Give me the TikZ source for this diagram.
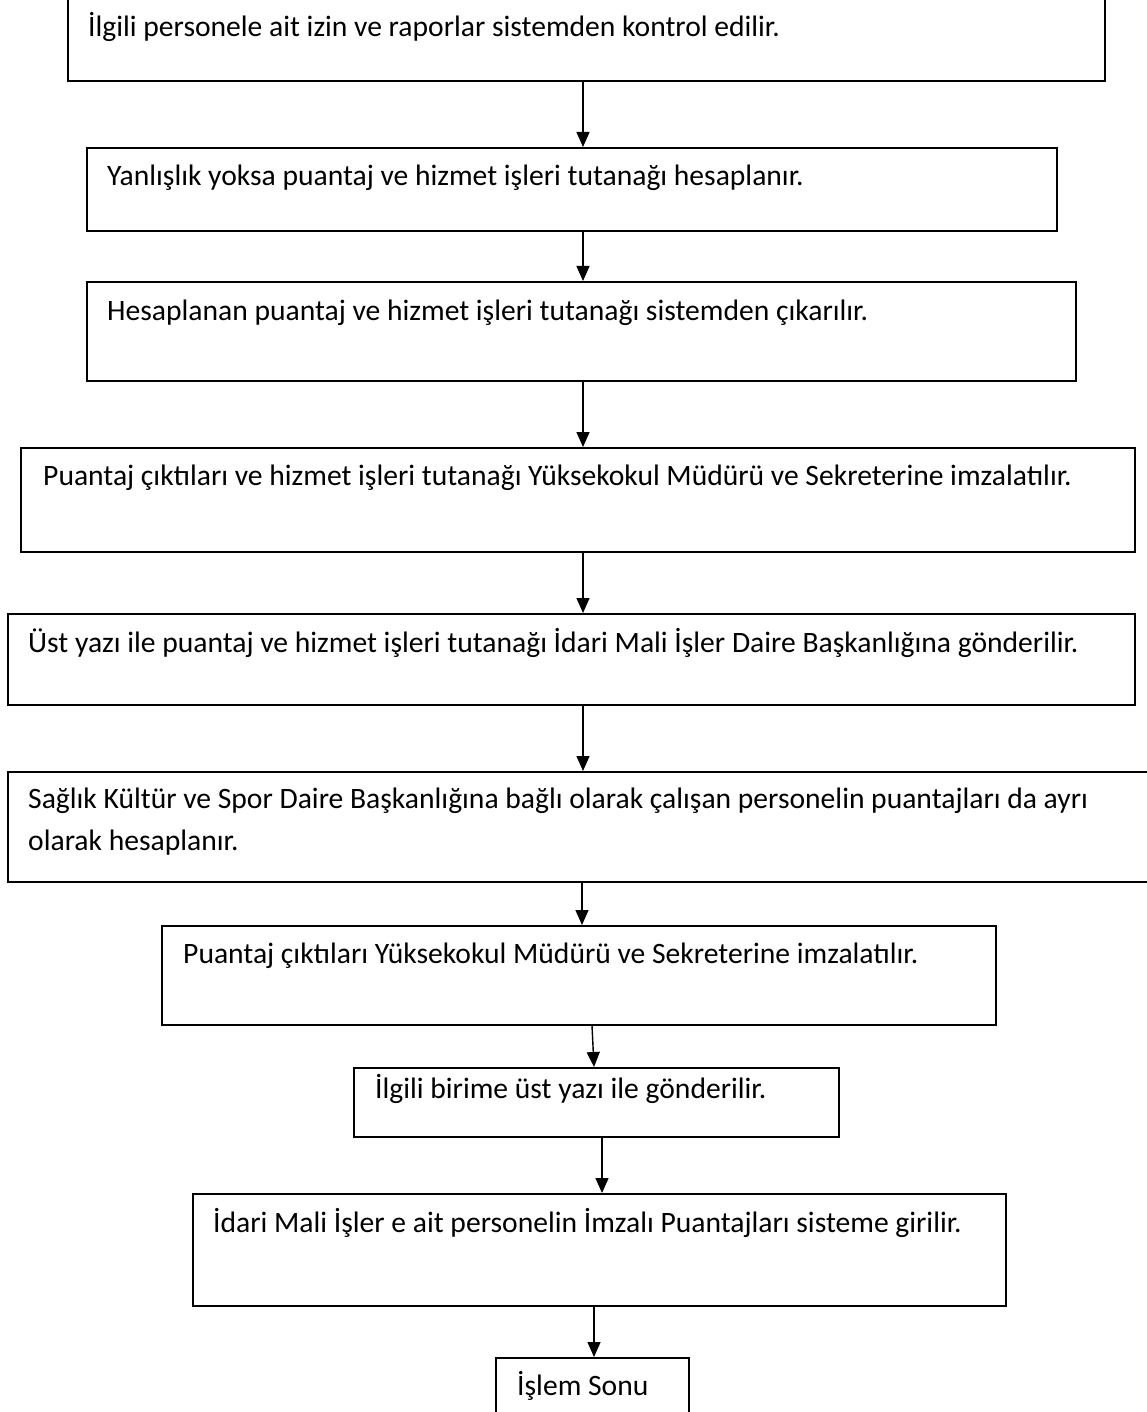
\documentclass[tikz,border=0pt]{standalone}
\usepackage{fontspec}
\setmainfont{Carlito}
\usetikzlibrary{arrows.meta}
\begin{document}
\begin{tikzpicture}[x=1pt,y=-1pt,
  boxst/.style={draw=black, line width=1.6pt, inner sep=0pt, anchor=north west},
  txt/.style={anchor=base west, inner sep=0pt, font=\fontsize{29.6}{41}\selectfont},
  arr/.style={line width=1.4pt, -{Triangle[length=15pt,width=13pt]}}]
\useasboundingbox (0,0) rectangle (1147,1412);
\clip (0,0) rectangle (1147,1412);
% boxes
\node[boxst, minimum width=1037pt, minimum height=100pt] (b1) at (67,-20) {};
\node[boxst, minimum width=970pt, minimum height=83pt] (b2) at (86,147) {};
\node[boxst, minimum width=989pt, minimum height=99pt] (b3) at (86,281) {};
\node[boxst, minimum width=1114pt, minimum height=104pt] (b4) at (20,447) {};
\node[boxst, minimum width=1127pt, minimum height=91pt] (b5) at (7,613) {};
\node[boxst, minimum width=1160pt, minimum height=110pt] (b6) at (7,771) {};
\node[boxst, minimum width=834pt, minimum height=99pt] (b7) at (161,925) {};
\node[boxst, minimum width=485pt, minimum height=69pt] (b8) at (353,1067) {};
\node[boxst, minimum width=813pt, minimum height=112pt] (b9) at (192,1193) {};
\node[boxst, minimum width=193pt, minimum height=100pt] (b10) at (495,1357) {};
% texts
\node[txt] (t1) at (88,37) {İlgili personele ait izin ve raporlar sistemden kontrol edilir.};
\node[txt] (t2) at (107,186) {Yanlışlık yoksa puantaj ve hizmet işleri tutanağı hesaplanır.};
\node[txt] (t3) at (107,320) {Hesaplanan puantaj ve hizmet işleri tutanağı sistemden çıkarılır.};
\node[txt] (t4) at (43,485) {Puantaj çıktıları ve hizmet işleri tutanağı Yüksekokul Müdürü ve Sekreterine imzalatılır.};
\node[txt] (t5) at (28,652) {Üst yazı ile puantaj ve hizmet işleri tutanağı İdari Mali İşler Daire Başkanlığına gönderilir.};
\node[txt] (t6a) at (28,808) {Sağlık Kültür ve Spor Daire Başkanlığına bağlı olarak çalışan personelin puantajları da ayrı};
\node[txt] (t6b) at (28,850) {olarak hesaplanır.};
\node[txt] (t7) at (183,963) {Puantaj çıktıları Yüksekokul Müdürü ve Sekreterine imzalatılır.};
\node[txt] (t8) at (375,1098) {İlgili birime üst yazı ile gönderilir.};
\node[txt] (t9) at (213,1232) {İdari Mali İşler e ait personelin İmzalı Puantajları sisteme girilir.};
\node[txt] (t10) at (517,1395) {İşlem Sonu};
% arrow axes
\coordinate (ax) at (583,0);
\coordinate (ay) at (582,0);
\coordinate (a7s) at (592,0);
\coordinate (a7e) at (594,0);
\coordinate (a8) at (602,0);
\coordinate (a9) at (594,0);
% connectors
\draw[arr] (b1.south -| ax) -- (b2.north -| ax);
\draw[arr] (b2.south -| ax) -- (b3.north -| ax);
\draw[arr] (b3.south -| ax) -- (b4.north -| ax);
\draw[arr] (b4.south -| ax) -- (b5.north -| ax);
\draw[arr] (b5.south -| ax) -- (b6.north -| ax);
\draw[arr] (b6.south -| ay) -- (b7.north -| ay);
\draw[arr] (b7.south -| a7s) -- (b8.north -| a7e);
\draw[arr] (b8.south -| a8) -- (b9.north -| a8);
\draw[arr] (b9.south -| a9) -- (b10.north -| a9);
\end{tikzpicture}
\end{document}
